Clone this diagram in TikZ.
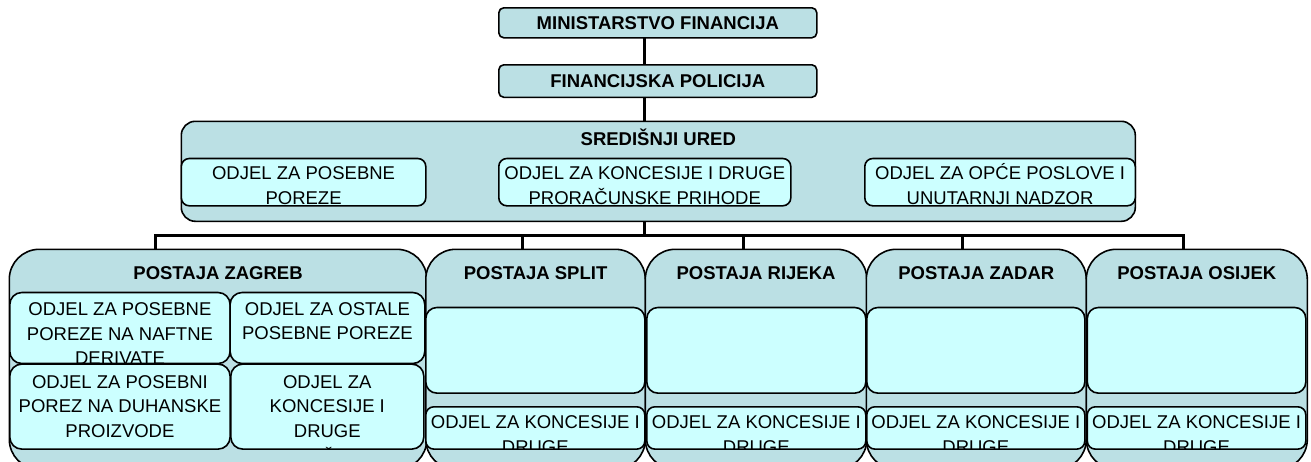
\documentclass[tikz,border=0pt]{standalone}
\usepackage{fontspec}
\setmainfont{Liberation Sans}
\usetikzlibrary{calc}
\pgfdeclarelayer{background}
\pgfsetlayers{background,main}
\definecolor{unitfill}{RGB}{187,224,228}
\definecolor{deptfill}{RGB}{204,255,255}
\newcommand{\BoxFont}{\fontsize{18.5}{24.5}\selectfont}
\newcommand{\LeadRule}{\rule{0pt}{18pt}}
\tikzset{Unit/.style={
    rectangle,
    anchor=north west,
    inner sep=0pt,
    draw=black,
    line width=1.6pt,
    fill=unitfill,
    }
}

\begin{document}
\begin{tikzpicture}[x=1pt, y=-1pt,
    link/.style={draw=black, line width=3pt, line cap=rect},
    Title/.style 2 args={path picture={%
        \node[anchor=base, minimum size=0pt, rounded corners=0pt, font=\BoxFont\bfseries]
          at ([yshift=-#1]path picture bounding box.north) {#2};}},
    Dept/.style 2 args={Unit, fill=deptfill, rounded corners=8pt,
      path picture={%
        \node[anchor=north, minimum size=0pt, rounded corners=0pt, align=center, font=\BoxFont]
          at ([yshift={18pt-#1}]path picture bounding box.north) {\LeadRule#2};}},
    Empty/.style={Unit, fill=deptfill, rounded corners=11pt},
]
\useasboundingbox (0,0) rectangle (1311,461);
\clip (0,0) rectangle (1311,461);

\node[Unit, rounded corners=5pt, minimum width=318pt, minimum height=30pt,
  font=\BoxFont\bfseries] (ministry) at (498,7) {MINISTARSTVO FINANCIJA};
\node[Unit, rounded corners=5pt, minimum width=318pt, minimum height=32.5pt,
  font=\BoxFont\bfseries] (police) at (498,64) {FINANCIJSKA POLICIJA};

% sredisnji ured
\node[Unit, rounded corners=14pt, minimum width=954pt, minimum height=100pt,
  Title={24pt}{SREDIŠNJI URED}] (central) at (180.5,120.5) {};
\node[Dept={20.6pt}{ODJEL ZA POSEBNE\\POREZE}, minimum width=244.5pt,
  minimum height=47.3pt] (c-excise) at (180.5,157.7) {};
\node[Dept={20.6pt}{ODJEL ZA KONCESIJE I DRUGE\\PRORAČUNSKE PRIHODE}, minimum width=292pt,
  minimum height=47.3pt] (c-concession) at (498,157.7) {};
\node[Dept={20.6pt}{ODJEL ZA OPĆE POSLOVE I\\UNUTARNJI NADZOR}, minimum width=270.5pt,
  minimum height=47.3pt] (c-general) at (864,157.7) {};

% postaja zagreb
\node[Unit, rounded corners=30pt, minimum width=417.5pt, minimum height=220pt,
  Title={30pt}{POSTAJA ZAGREB}] (zagreb) at (8.5,248.5) {};
\node[Dept={22.3pt}{ODJEL ZA POSEBNE\\POREZE NA NAFTNE\\DERIVATE}, rounded corners=12pt,
  minimum width=220.3pt, minimum height=71pt] (zg-oil) at (9,291.7) {};
\node[Dept={21.8pt}{ODJEL ZA OSTALE\\POSEBNE POREZE}, rounded corners=12pt,
  minimum width=194.7pt, minimum height=71pt] (zg-other) at (229.3,291.7) {};
\node[Dept={23.4pt}{ODJEL ZA POSEBNI\\POREZ NA DUHANSKE\\PROIZVODE}, rounded corners=12pt,
  minimum width=220.3pt, minimum height=85pt] (zg-tobacco) at (9,363.3) {};
\node[Dept={23.4pt}{ODJEL ZA\\KONCESIJE I\\DRUGE\\[2pt]PRORAČUNSKE\\PRIHODE}, rounded corners=12pt,
  minimum width=193pt, minimum height=85pt] (zg-concession) at (230,363.3) {};

% ostale postaje
\node[Unit, rounded corners=30pt, minimum width=219.5pt, minimum height=220pt,
  Title={30pt}{POSTAJA SPLIT}] (split) at (425,248.5) {};
\node[Empty, minimum width=219pt, minimum height=85.6pt] (split-a) at (425,306.7) {};
\node[Dept={21.3pt}{ODJEL ZA KONCESIJE I\\DRUGE\\PRORAČUNSKE PRIHODE}, minimum width=219pt,
  minimum height=42.3pt] (split-b) at (425,406) {};

\node[Unit, rounded corners=30pt, minimum width=221.5pt, minimum height=220pt,
  Title={30pt}{POSTAJA RIJEKA}] (rijeka) at (644.5,248.5) {};
\node[Empty, minimum width=219pt, minimum height=85.6pt] (rijeka-a) at (646,306.7) {};
\node[Dept={21.3pt}{ODJEL ZA KONCESIJE I\\DRUGE\\PRORAČUNSKE PRIHODE}, minimum width=219pt,
  minimum height=42.3pt] (rijeka-b) at (646,406) {};

\node[Unit, rounded corners=30pt, minimum width=220pt, minimum height=220pt,
  Title={30pt}{POSTAJA ZADAR}] (zadar) at (865.5,248.5) {};
\node[Empty, minimum width=218pt, minimum height=85.6pt] (zadar-a) at (866,306.7) {};
\node[Dept={21.3pt}{ODJEL ZA KONCESIJE I\\DRUGE\\PRORAČUNSKE PRIHODE}, minimum width=218pt,
  minimum height=42.3pt] (zadar-b) at (866,406) {};

\node[Unit, rounded corners=30pt, minimum width=221pt, minimum height=220pt,
  Title={30pt}{POSTAJA OSIJEK}] (osijek) at (1085.5,248.5) {};
\node[Empty, minimum width=218.5pt, minimum height=85.6pt] (osijek-a) at (1086.5,306.7) {};
\node[Dept={21.3pt}{ODJEL ZA KONCESIJE I\\DRUGE\\PRORAČUNSKE PRIHODE}, minimum width=218.5pt,
  minimum height=42.3pt] (osijek-b) at (1086.5,406) {};

% veze
\coordinate (spine) at (644.5,0);
\coordinate (bus) at (0,235);
\coordinate (zagreb-in) at (155,235);
\coordinate (split-in) at (522,235);
\coordinate (rijeka-in) at (743,235);
\coordinate (zadar-in) at (962,235);
\coordinate (osijek-in) at (1183,235);
\begin{pgfonlayer}{background}
\draw[link] (spine |- ministry.south) -- (spine |- police.north);
\draw[link] (spine |- police.south) -- (spine |- central.north);
\draw[link] (spine |- central.south) -- (spine |- bus);
\draw[link] (zagreb-in) -- (osijek-in);
\foreach \s in {zagreb,split,rijeka,zadar,osijek}
  \draw[link] (\s-in) -- (\s-in |- \s.north);
\end{pgfonlayer}
\end{tikzpicture}
\end{document}
